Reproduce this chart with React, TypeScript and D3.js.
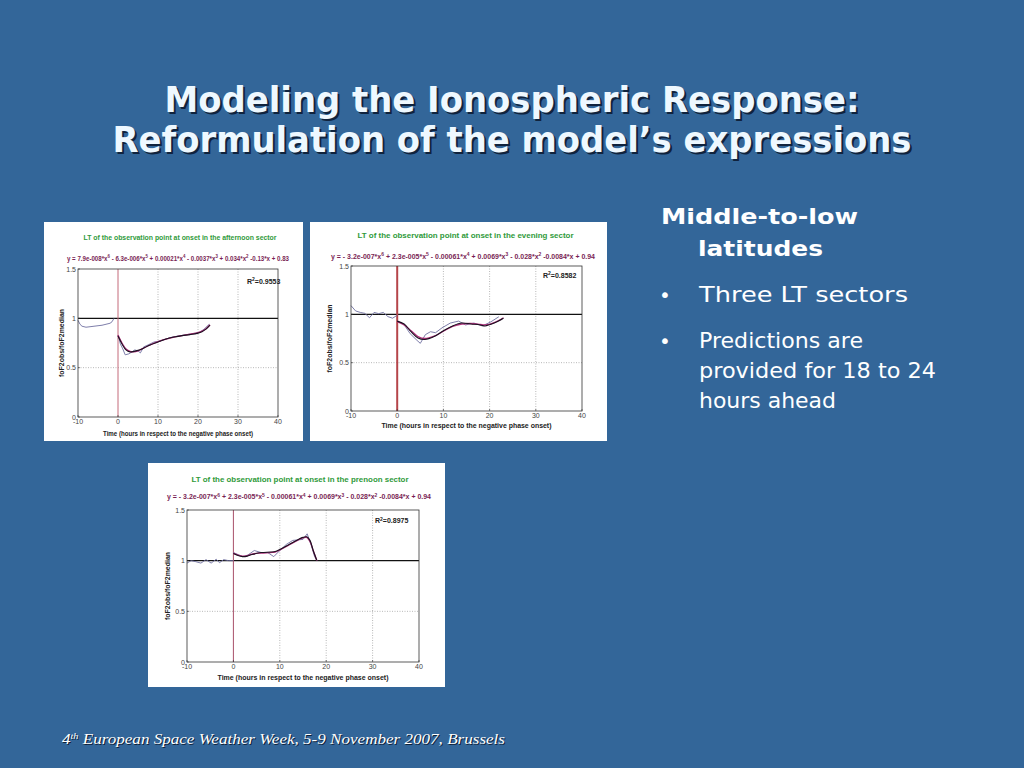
import * as d3 from 'd3';

// ---- slide text ----
const slideTitle = ['Modeling the Ionospheric Response:', 'Reformulation of the model\u2019s expressions'];
const headingLines = ['Middle-to-low', 'latitudes'];
const bulletOne = ['Three LT sectors'];
const bulletTwo = ['Predictions are', 'provided for 18 to 24', 'hours ahead'];
const footerText = ['4', 'th', ' European Space Weather Week, 5-9 November 2007, Brussels'];

// ---- chart axes ----
const xTicks = [-10, 0, 10, 20, 30, 40];
const yTicks = [0, 0.5, 1, 1.5];
const gridX = [10, 20, 30];
const gridY = [0.5];
const xLabel = 'Time (hours in respect to the negative phase onset)';
const yLabel = 'foF2obs/foF2median';

const panelTitles = [
  'LT of the observation point at onset in the afternoon sector',
  'LT of the observation point at onset in the evening sector',
  'LT of the observation point at onset in the prenoon sector',
];
const r2Values = ['0.9553', '0.8582', '0.8975'];

// equation pieces: [text, superscript]
const eqAfternoon = [
  ['y = 7.9e-008*x', '6'], [' - 6.3e-006*x', '5'], [' + 0.00021*x', '4'],
  [' - 0.0037*x', '3'], [' + 0.034*x', '2'], [' -0.13*x + 0.83', ''],
];
const eqEvening = [
  ['y = - 3.2e-007*x', '6'], [' + 2.3e-005*x', '5'], [' - 0.00061*x', '4'],
  [' + 0.0069*x', '3'], [' - 0.028*x', '2'], [' -0.0084*x + 0.94', ''],
];

// ---- afternoon sector ----
const aftBeforeX = [-10, -9.5, -9, -8, -7, -6, -5, -4, -3, -2, -1.5, -1];
const aftBeforeY = [0.98, 0.94, 0.92, 0.91, 0.915, 0.92, 0.925, 0.93, 0.94, 0.95, 0.965, 1.0];
const aftObsX = [0, 0.6, 1.2, 1.8, 2.7, 3.5, 4.2, 5, 5.6, 6.4, 7.5, 9, 10.5, 12, 13.5, 15, 16.5, 18, 19.5, 20.5, 21.5, 22.8];
const aftObsY = [0.83, 0.74, 0.69, 0.63, 0.64, 0.66, 0.68, 0.67, 0.65, 0.71, 0.73, 0.76, 0.77, 0.79, 0.81, 0.82, 0.83, 0.84, 0.85, 0.86, 0.89, 0.94];
const aftModelX = [0, 1, 2, 3, 4, 5, 6, 8, 10, 12, 14, 16, 18, 20, 21, 22, 23];
const aftModelY = [0.82, 0.74, 0.68, 0.66, 0.665, 0.675, 0.69, 0.73, 0.76, 0.79, 0.81, 0.825, 0.835, 0.85, 0.865, 0.89, 0.93];
const aftFitY = [0.83, 0.75, 0.69, 0.665, 0.66, 0.67, 0.69, 0.73, 0.765, 0.79, 0.81, 0.825, 0.84, 0.855, 0.87, 0.895, 0.935];

// ---- evening sector ----
const eveBeforeX = [-10, -9, -8, -7, -6, -5, -4, -3, -2, -1, 0];
const eveBeforeY = [1.09, 1.035, 1.02, 1.01, 0.965, 1.02, 1.007, 1.02, 0.976, 0.96, 0.99];
const eveObsX = [0, 1.4, 2.8, 4.3, 5, 6.1, 7.2, 8.3, 9.7, 11.5, 13.3, 14.8, 16.6, 18.4, 20.2, 22];
const eveObsY = [0.93, 0.9, 0.8, 0.73, 0.7, 0.79, 0.82, 0.81, 0.86, 0.91, 0.93, 0.89, 0.91, 0.88, 0.92, 0.975];
const eveModelX = [0, 1.5, 3, 4.5, 6, 8, 10, 12, 14, 16, 18, 19, 21, 23];
const eveModelY = [0.93, 0.9, 0.82, 0.755, 0.74, 0.77, 0.83, 0.88, 0.91, 0.9, 0.89, 0.88, 0.91, 0.96];
const eveFitY = [0.925, 0.89, 0.83, 0.77, 0.75, 0.775, 0.825, 0.875, 0.9, 0.905, 0.895, 0.89, 0.915, 0.965];

// ---- prenoon sector ----
const preBeforeX = [-10, -9.1, -8.1, -7, -5.9, -4.8, -3.7, -3, -2.1, -1, 0];
const preBeforeY = [0.976, 1.0, 0.99, 0.976, 1.01, 0.976, 1.014, 0.98, 1.01, 1.0, 1.0];
const preObsX = [0, 1, 2, 3.1, 4.5, 6, 7.4, 8.7, 10, 11.4, 12.8, 13.9, 15, 15.9, 16.8, 17.5, 18];
const preObsY = [1.08, 1.06, 1.04, 1.055, 1.1, 1.08, 1.08, 1.04, 1.1, 1.16, 1.2, 1.205, 1.21, 1.265, 1.15, 1.04, 1.0];
const preModelX = [0, 1, 2, 3, 4, 6, 8, 9, 10, 12, 14, 15, 15.8, 16.5, 17.2, 18];
const preModelY = [1.07, 1.05, 1.04, 1.045, 1.06, 1.08, 1.085, 1.09, 1.11, 1.16, 1.21, 1.23, 1.235, 1.2, 1.1, 1.0];
const preFitY = [1.075, 1.055, 1.045, 1.05, 1.065, 1.075, 1.08, 1.085, 1.105, 1.155, 1.205, 1.225, 1.23, 1.19, 1.1, 1.0];

const BG = '#336699';
const chartFont = '"Liberation Sans", Arial, sans-serif';

type Pt = [number, number];
const pts = (xs: number[], ys: number[]): Pt[] => xs.map((v, i) => [v, ys[i]]);

function Panel(props: any) {
  const { box, plot, t, title, eq, r2, before, obs, model, fit, onsetWidth, onsetColor } = props;
  const x = d3.scaleLinear().domain([-10, 40]).range([plot.l, plot.r]);
  const y = d3.scaleLinear().domain([0, 1.5]).range([plot.b, plot.t]);
  const straight = d3.line<Pt>().x((d) => x(d[0])).y((d) => y(d[1]));
  const smooth = d3.line<Pt>().x((d) => x(d[0])).y((d) => y(d[1])).curve(d3.curveCatmullRom);
  const cx = (plot.l + plot.r) / 2;
  const cy = (plot.t + plot.b) / 2;

  const eqSpans: any[] = [];
  eq.forEach((p: string[], i: number) => {
    const back = i > 0 && eq[i - 1][1] ? 2.5 : 0;
    eqSpans.push(<tspan key={'b' + i} dy={back}>{p[0]}</tspan>);
    if (p[1]) eqSpans.push(<tspan key={'s' + i} dy={-2.5} fontSize={5}>{p[1]}</tspan>);
  });

  return (
    <g fontFamily={chartFont}>
      <rect x={box.x} y={box.y} width={box.w} height={box.h} fill="#ffffff" />
      <text x={t.titleX} y={t.titleY} textAnchor="middle" fontSize={7} fontWeight="bold" fill="#2f9a3a"
        textLength={t.titleW} lengthAdjust="spacingAndGlyphs">{title}</text>
      <text x={t.eqX} y={t.eqY} textAnchor="middle" fontSize={7} fontWeight="bold" fill="#7a1f55"
        textLength={t.eqW} lengthAdjust="spacingAndGlyphs">{eqSpans}</text>

      {/* grid */}
      {gridX.map((g) => (
        <line key={'gx' + g} x1={x(g)} x2={x(g)} y1={plot.t} y2={plot.b} stroke="#9a9a9a" strokeWidth={0.7} strokeDasharray="1 1.5" />
      ))}
      {gridY.map((g) => (
        <line key={'gy' + g} x1={plot.l} x2={plot.r} y1={y(g)} y2={y(g)} stroke="#9a9a9a" strokeWidth={0.7} strokeDasharray="1 1.5" />
      ))}

      {/* reference line at 1 */}
      <line x1={x(-10)} x2={x(40)} y1={y(1)} y2={y(1)} stroke="#111" strokeWidth={1.3} />
      {/* onset line */}
      <line x1={x(0)} x2={x(0)} y1={plot.t} y2={plot.b} stroke={onsetColor} strokeWidth={onsetWidth} />

      {/* series */}
      <path d={straight(before) || ''} fill="none" stroke="#6f6fa0" strokeWidth={0.9} />
      <path d={straight(obs) || ''} fill="none" stroke="#6f6fa0" strokeWidth={0.9} />
      <path d={smooth(fit) || ''} fill="none" stroke="#b0307a" strokeWidth={1.3} />
      <path d={smooth(model) || ''} fill="none" stroke="#1b1020" strokeWidth={1.1} />

      {/* frame */}
      <rect x={plot.l} y={plot.t} width={plot.r - plot.l} height={plot.b - plot.t} fill="none" stroke="#333" strokeWidth={0.8} />
      {xTicks.map((v) => (
        <g key={'xt' + v}>
          <line x1={x(v)} x2={x(v)} y1={plot.b} y2={plot.b - 2} stroke="#333" strokeWidth={0.6} />
          <text x={x(v)} y={plot.b + 7} textAnchor="middle" fontSize={7} fill="#444">{v}</text>
        </g>
      ))}
      {yTicks.map((v) => (
        <g key={'yt' + v}>
          <line x1={plot.l} x2={plot.l + 2} y1={y(v)} y2={y(v)} stroke="#333" strokeWidth={0.6} />
          <text x={plot.l - 2} y={y(v) + 2.5} textAnchor="end" fontSize={7} fill="#444">{v}</text>
        </g>
      ))}

      <text x={cx} y={t.xLabelY} textAnchor="middle" fontSize={7} fontWeight="bold" fill="#222"
        textLength={t.xLabelW} lengthAdjust="spacingAndGlyphs">{xLabel}</text>
      <text transform={`translate(${t.yLabelX},${cy}) rotate(-90)`} textAnchor="middle" fontSize={7} fontWeight="bold" fill="#222"
        textLength={68} lengthAdjust="spacingAndGlyphs">{yLabel}</text>

      <text x={t.r2X} y={t.r2Y} fontSize={7} fontWeight="bold" fill="#222">
        R<tspan dy={-2.5} fontSize={5}>2</tspan><tspan dy={2.5}>={r2}</tspan>
      </text>
    </g>
  );
}

export default function App() {
  const titleFont = '"DejaVu Sans Condensed", "DejaVu Sans", Verdana, sans-serif';
  const bodyFont = '"DejaVu Sans", Verdana, sans-serif';
  const titleBase = [112, 152];
  const titleW = [695, 799];
  const headY = [224, 256];
  const b1Y = [302];
  const b2Y = [348, 378, 408];
  const b1W = [209];
  const b2W = [164, 237, 137];

  return (
    <svg width={1024} height={768} style={{ position: 'absolute', left: 0, top: 0, display: 'block' }}>
      <rect x={0} y={0} width={1024} height={768} fill={BG} />

      {slideTitle.map((s, i) => (
        <g key={s} fontFamily={titleFont} fontWeight="bold" fontSize={35}>
          <text x={514} y={titleBase[i] + 2} textAnchor="middle" fill="#10233d" textLength={titleW[i]} lengthAdjust="spacingAndGlyphs">{s}</text>
          <text x={512} y={titleBase[i]} textAnchor="middle" fill="#eef8ff" textLength={titleW[i]} lengthAdjust="spacingAndGlyphs">{s}</text>
        </g>
      ))}

      <g fontFamily={bodyFont} fill="#ffffff">
        <text x={661} y={headY[0]} fontSize={22} fontWeight="bold" textLength={197} lengthAdjust="spacingAndGlyphs">{headingLines[0]}</text>
        <text x={698} y={headY[1]} fontSize={22} fontWeight="bold" textLength={125} lengthAdjust="spacingAndGlyphs">{headingLines[1]}</text>
        <text x={665} y={b1Y[0]} fontSize={20} textAnchor="middle">{'\u2022'}</text>
        {bulletOne.map((s, i) => (
          <text key={s} x={699} y={b1Y[i]} fontSize={22} textLength={b1W[i]} lengthAdjust="spacingAndGlyphs">{s}</text>
        ))}
        <text x={665} y={b2Y[0]} fontSize={20} textAnchor="middle">{'\u2022'}</text>
        {bulletTwo.map((s, i) => (
          <text key={s} x={699} y={b2Y[i]} fontSize={22} textLength={b2W[i]} lengthAdjust="spacingAndGlyphs">{s}</text>
        ))}
      </g>

      <Panel
        box={{ x: 44, y: 222, w: 259, h: 219 }}
        plot={{ l: 78, r: 278, t: 269, b: 417 }}
        t={{ titleX: 180, titleY: 240, titleW: 193, eqX: 178, eqY: 260.5, eqW: 222, xLabelY: 435.5, xLabelW: 150, yLabelX: 64, r2X: 247, r2Y: 283.5 }}
        title={panelTitles[0]} eq={eqAfternoon} r2={r2Values[0]}
        before={pts(aftBeforeX, aftBeforeY)} obs={pts(aftObsX, aftObsY)}
        model={pts(aftModelX, aftModelY)} fit={pts(aftModelX, aftFitY)}
        onsetWidth={1} onsetColor="#c46a7a"
      />
      <Panel
        box={{ x: 310, y: 222, w: 297, h: 219 }}
        plot={{ l: 351, r: 582, t: 266, b: 411 }}
        t={{ titleX: 465.5, titleY: 238, titleW: 216, eqX: 463, eqY: 258.5, eqW: 264, xLabelY: 428, xLabelW: 170, yLabelX: 332, r2X: 543, r2Y: 277.5 }}
        title={panelTitles[1]} eq={eqEvening} r2={r2Values[1]}
        before={pts(eveBeforeX, eveBeforeY)} obs={pts(eveObsX, eveObsY)}
        model={pts(eveModelX, eveModelY)} fit={pts(eveModelX, eveFitY)}
        onsetWidth={2} onsetColor="#b5454a"
      />
      <Panel
        box={{ x: 148, y: 463, w: 297, h: 224 }}
        plot={{ l: 187, r: 419, t: 510, b: 662 }}
        t={{ titleX: 300, titleY: 482, titleW: 217, eqX: 299, eqY: 499, eqW: 264, xLabelY: 680, xLabelW: 171, yLabelX: 170, r2X: 375, r2Y: 523 }}
        title={panelTitles[2]} eq={eqEvening} r2={r2Values[2]}
        before={pts(preBeforeX, preBeforeY)} obs={pts(preObsX, preObsY)}
        model={pts(preModelX, preModelY)} fit={pts(preModelX, preFitY)}
        onsetWidth={1} onsetColor="#a8506a"
      />

      <g fontFamily='"Liberation Serif", "Times New Roman", serif' fontStyle="italic" fontSize={15}>
        <text x={63} y={745} fill="#0f2138" textLength={443} lengthAdjust="spacingAndGlyphs">
          {footerText[0]}<tspan dy={-5} fontSize={9}>{footerText[1]}</tspan><tspan dy={5}>{footerText[2]}</tspan>
        </text>
        <text x={62} y={744} fill="#ffffff" textLength={443} lengthAdjust="spacingAndGlyphs">
          {footerText[0]}<tspan dy={-5} fontSize={9}>{footerText[1]}</tspan><tspan dy={5}>{footerText[2]}</tspan>
        </text>
      </g>
    </svg>
  );
}
